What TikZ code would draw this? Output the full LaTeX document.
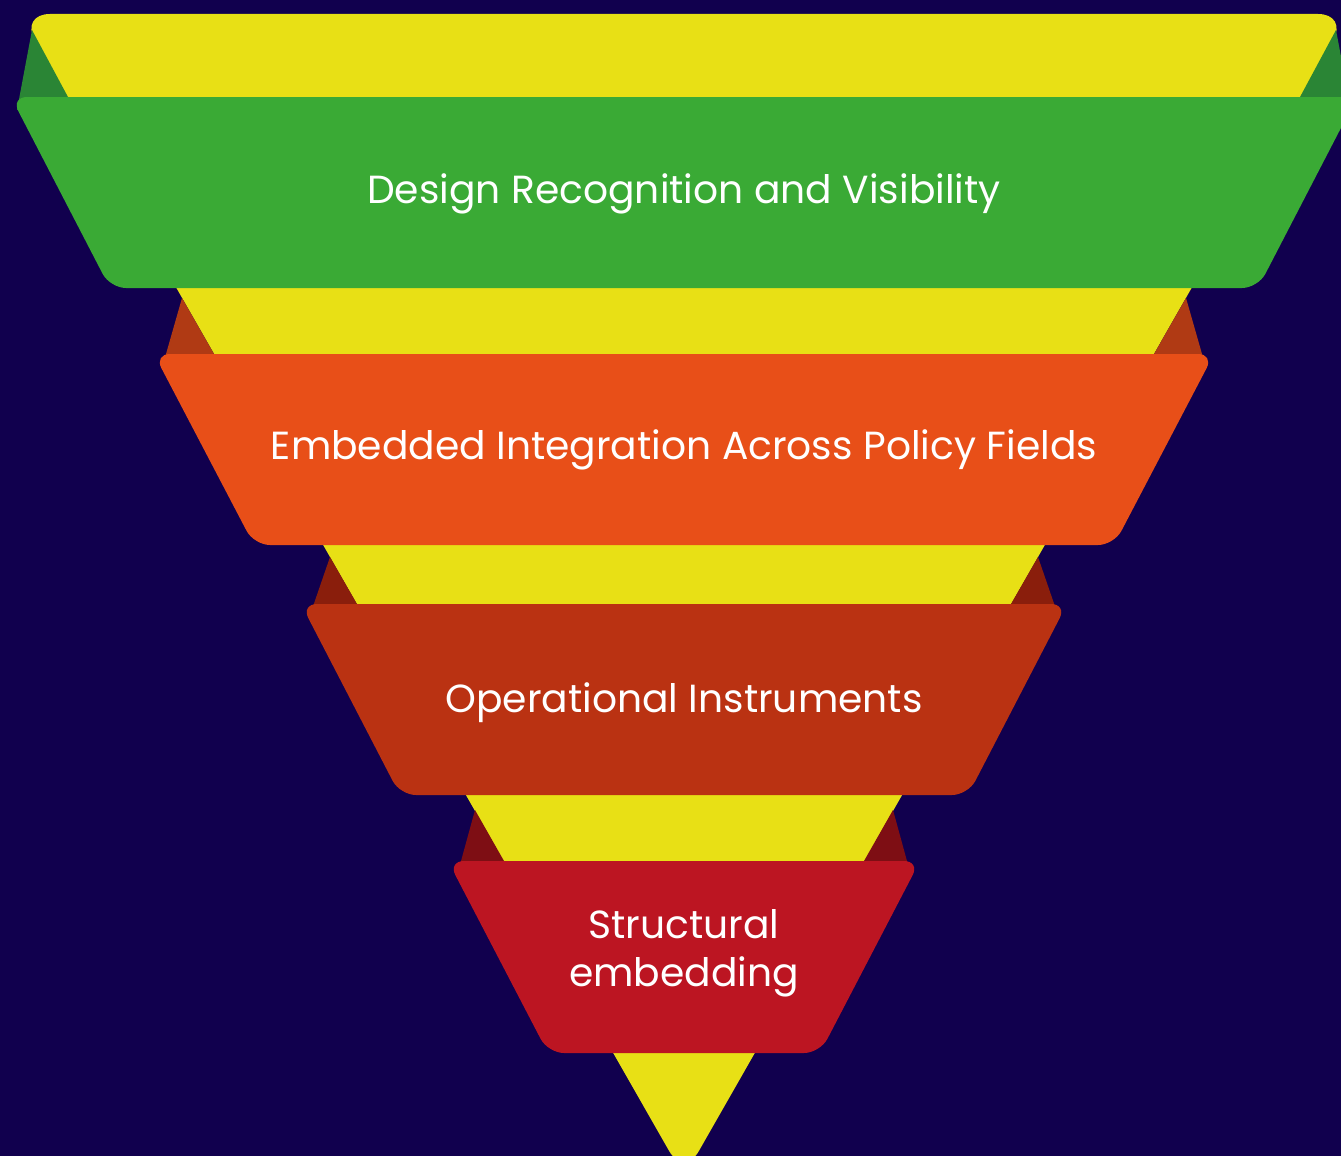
\documentclass[tikz,border=0pt]{standalone}
\usepackage{fontspec}
\setmainfont{Poppins}
\definecolor{night}{HTML}{11004E}
\definecolor{funnel}{HTML}{E8E015}
\definecolor{green1}{HTML}{3AAA35}
\definecolor{green1dark}{HTML}{2A8535}
\definecolor{orange2}{HTML}{E84F18}
\definecolor{orange2dark}{HTML}{B03A14}
\definecolor{rust3}{HTML}{BA3212}
\definecolor{rust3dark}{HTML}{8A1E0C}
\definecolor{red4}{HTML}{BC1522}
\definecolor{red4dark}{HTML}{7E0E14}
\tikzset{
  band/.style={rounded corners=16pt},
  bandtext/.style={text=white, anchor=base, font=\fontsize{39.2}{47}\selectfont}
}

\begin{document}
\begin{tikzpicture}[x=1pt,y=-1pt]
  \fill[night] (0,0) rectangle (1341,1156);
  \useasboundingbox (0,0) rectangle (1341,1156);

  % the funnel behind the bands
  \fill[funnel, rounded corners=30pt] (20,14) -- (1348,14) -- (684,1177) -- cycle;

  % folds, left and right of each band
  \fill[green1dark] (32,30) -- (17,110) -- (68,97) -- cycle;
  \fill[green1dark] (1336,30) -- (1351,110) -- (1300,97) -- cycle;
  \fill[orange2dark] (182,298) -- (162,368) -- (214,354) -- cycle;
  \fill[orange2dark] (1186,298) -- (1206,368) -- (1154,354) -- cycle;
  \fill[rust3dark] (330,557) -- (309,618) -- (357,604) -- cycle;
  \fill[rust3dark] (1038,557) -- (1059,618) -- (1011,604) -- cycle;
  \fill[red4dark] (475,810) -- (458,872) -- (504,861) -- cycle;
  \fill[red4dark] (893,810) -- (910,872) -- (864,861) -- cycle;

  % bands
  \fill[green1, band] (11,97) -- (1357,97) -- (1258,288) -- (110,288) -- cycle;
  \fill[orange2, band] (154,354) -- (1214,354) -- (1114,545) -- (254,545) -- cycle;
  \fill[rust3, band] (301,604) -- (1067,604) -- (968,795) -- (400,795) -- cycle;
  \fill[red4, band] (448,861) -- (920,861) -- (820,1053) -- (548,1053) -- cycle;

  % labels
  \node[bandtext] (design) at (684,203) {Design Recognition and Visibility};
  \node[bandtext] (embedded) at (684,459) {Embedded Integration Across Policy Fields};
  \node[bandtext] (operational) at (684,712) {Operational Instruments};
  \node[bandtext] (structural) at (684,938) {Structural};
  \node[bandtext] (embedding) at (684,986) {embedding};
\end{tikzpicture}
\end{document}
